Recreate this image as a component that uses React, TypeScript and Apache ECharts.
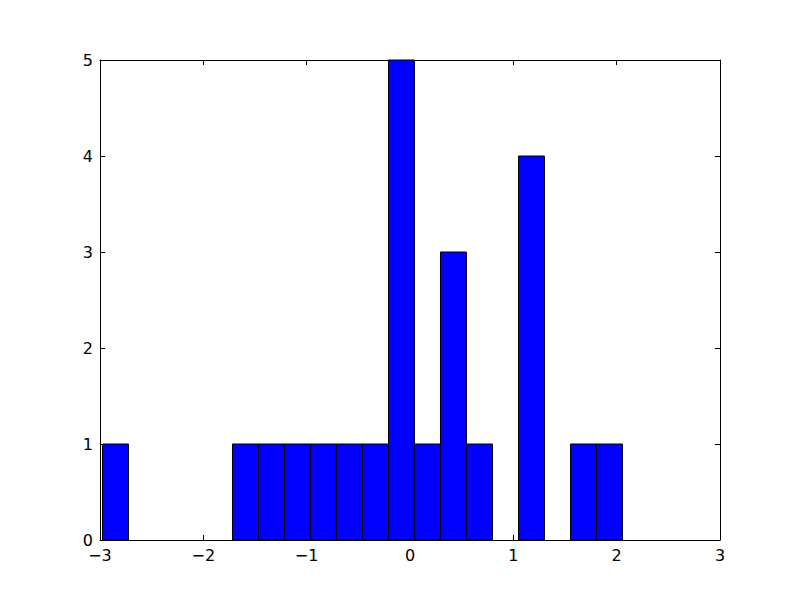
import React, { useEffect, useRef } from "react";
import * as echarts from "echarts";

const binEdges = [
  -2.976, -2.724, -2.473, -2.221, -1.97, -1.718, -1.466, -1.215, -0.963, -0.712,
  -0.46, -0.208, 0.043, 0.295, 0.546, 0.798, 1.05, 1.301, 1.553, 1.804, 2.056,
];
const counts = [1, 0, 0, 0, 0, 1, 1, 1, 1, 1, 1, 5, 1, 3, 1, 0, 4, 0, 1, 1];
const xTicks = [-3, -2, -1, 0, 1, 2, 3];
const yTicks = [0, 1, 2, 3, 4, 5];

const fmt = (v: number) => String(v).replace("-", "\u2212");

export default function App() {
  const ref = useRef<HTMLDivElement>(null);
  useEffect(() => {
    if (!ref.current) return;
    const chart = echarts.init(ref.current, null, { renderer: "svg" });
    const data = counts.map((c, i) => [binEdges[i], binEdges[i + 1], c]);
    const font = { fontFamily: "DejaVu Sans", fontSize: 16, color: "#000" };
    const tick = { show: true, inside: true, length: 5, lineStyle: { color: "#000", width: 1 } };
    const line = { show: true, onZero: false, lineStyle: { color: "#000", width: 1 } };
    chart.setOption({
      animation: false,
      backgroundColor: "#fff",
      grid: { left: 100, right: 80, top: 60, bottom: 60, containLabel: false },
      xAxis: [
        {
          type: "value",
          min: xTicks[0],
          max: xTicks[xTicks.length - 1],
          interval: 1,
          position: "bottom",
          axisLine: line,
          axisTick: tick,
          splitLine: { show: false },
          axisLabel: { ...font, lineHeight: 14, margin: 8, formatter: fmt },
        },
        {
          type: "value",
          min: xTicks[0],
          max: xTicks[xTicks.length - 1],
          interval: 1,
          position: "top",
          axisLine: line,
          axisTick: tick,
          splitLine: { show: false },
          axisLabel: { show: false },
        },
      ],
      yAxis: [
        {
          type: "value",
          min: yTicks[0],
          max: yTicks[yTicks.length - 1],
          interval: 1,
          position: "left",
          axisLine: line,
          axisTick: tick,
          splitLine: { show: false },
          axisLabel: { ...font, lineHeight: 14, margin: 7, formatter: fmt },
        },
        {
          type: "value",
          min: yTicks[0],
          max: yTicks[yTicks.length - 1],
          interval: 1,
          position: "right",
          axisLine: line,
          axisTick: tick,
          splitLine: { show: false },
          axisLabel: { show: false },
        },
      ],
      series: [
        {
          type: "custom",
          xAxisIndex: 0,
          yAxisIndex: 0,
          data,
          encode: { x: [0, 1], y: 2 },
          renderItem: (params: any, api: any) => {
            const x0 = api.value(0);
            const x1 = api.value(1);
            const c = api.value(2);
            if (!c) return null;
            const p0 = api.coord([x0, c]);
            const p1 = api.coord([x1, 0]);
            return {
              type: "rect",
              shape: { x: p0[0], y: p0[1], width: p1[0] - p0[0], height: p1[1] - p0[1] },
              style: { fill: "#0000ff", stroke: "#000", lineWidth: 1 },
            };
          },
        },
      ],
    });
    return () => chart.dispose();
  }, []);
  return <div ref={ref} style={{ width: 800, height: 600, position: "absolute", left: 0, top: 0 }} />;
}
